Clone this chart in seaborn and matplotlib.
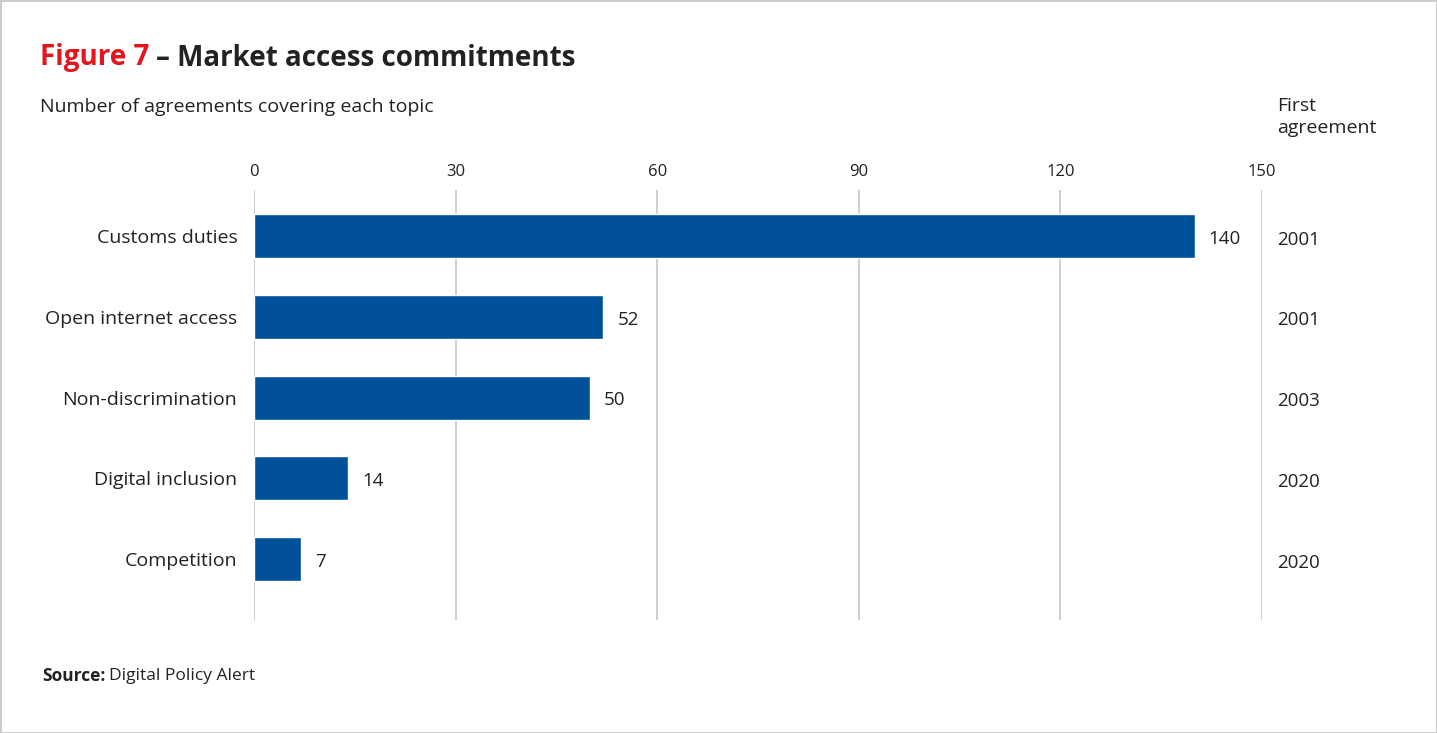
import matplotlib
matplotlib.use("Agg")
import matplotlib.pyplot as plt
import matplotlib.transforms as mtransforms
import seaborn as sns
import pandas as pd

# Data
topics = ["Customs duties", "Open internet access", "Non-discrimination",
          "Digital inclusion", "Competition"]
agreements = [140, 52, 50, 14, 7]
first_year = ["2001", "2001", "2003", "2020", "2020"]
x_ticks = [0, 30, 60, 90, 120, 150]

df = pd.DataFrame({"topic": topics, "count": agreements})

sns.set_theme(style="white")
plt.rcParams["font.family"] = ["Open Sans", "DejaVu Sans"]

BLUE = "#005199"
TEXT = "#222222"
GRID = "#cfcfcf"

W, H = 1437, 733
fig = plt.figure(figsize=(W / 100, H / 100), dpi=100)
fig.patch.set_facecolor("white")
fig.patch.set_edgecolor("#cccccc")
fig.patch.set_linewidth(2)

left, right, top, bottom = 254, 1262, 190, 620
ax = fig.add_axes([left / W, 1 - bottom / H, (right - left) / W, (bottom - top) / H])

sns.barplot(data=df, x="count", y="topic", orient="h", color=BLUE,
            saturation=1, width=0.545, ax=ax, zorder=3)

ax.set_xlim(0, 150)
ax.set_ylim(4.755, -0.57)
ax.set_xticks(x_ticks)
ax.xaxis.tick_top()
ax.tick_params(axis="x", length=0, pad=7, labelsize=12, labelcolor=TEXT)
ax.tick_params(axis="y", length=0, pad=12, labelsize=14, labelcolor=TEXT)
ax.set_xlabel("")
ax.set_ylabel("")
for s in ax.spines.values():
    s.set_visible(False)
ax.grid(False)
for v in x_ticks:
    ax.axvline(v, color=GRID, lw=1.4, zorder=1)

# value labels
for i, v in enumerate(agreements):
    ax.annotate(str(v), xy=(v, i), xytext=(10, -2), textcoords="offset points",
                ha="left", va="center", fontsize=13.5, color=TEXT)

# first-agreement column
trans = mtransforms.blended_transform_factory(ax.transAxes, ax.transData)
for i, yr in enumerate(first_year):
    ax.annotate(yr, xy=(1 + 15 / (right - left), i), xycoords=trans,
                xytext=(0, -2.5), textcoords="offset points",
                ha="left", va="center", fontsize=13.5, color=TEXT)

fig.text(1277 / W, 1 - 97 / H, "First\nagreement", ha="left", va="top",
         fontsize=14, color=TEXT, linespacing=1.3)

# titles
t1 = fig.text(40 / W, 1 - 58 / H, "Figure 7", ha="left", va="center",
              fontsize=20, fontweight="bold", color="#e3161e")
fig.canvas.draw()
bb = t1.get_window_extent()
fig.text((bb.x1 + 7) / W, 1 - 58 / H, "– Market access commitments",
         ha="left", va="center", fontsize=20, fontweight="bold", color=TEXT)

fig.text(40 / W, 1 - 107 / H, "Number of agreements covering each topic",
         ha="left", va="center", fontsize=14, color=TEXT)

s1 = fig.text(42 / W, 1 - 676 / H, "Source:", ha="left", va="center",
              fontsize=12.5, fontweight="bold", color=TEXT)
fig.canvas.draw()
bb = s1.get_window_extent()
fig.text((bb.x1 + 4) / W, 1 - 676 / H, "Digital Policy Alert", ha="left",
         va="center", fontsize=12.5, color=TEXT)

fig.savefig("out.png", dpi=100)
